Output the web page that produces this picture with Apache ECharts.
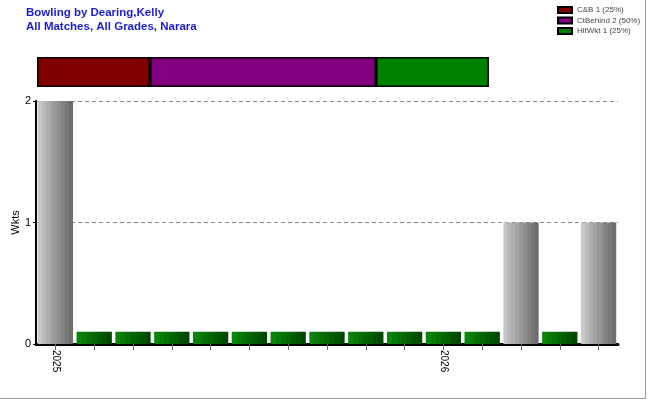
<!DOCTYPE html>
<html><head><meta charset="utf-8">
<script src="https://cdn.jsdelivr.net/npm/echarts@6/dist/echarts.min.js"></script>
<style>html,body{margin:0;padding:0;background:#fff}#c{width:650px;height:400px}</style>
</head><body><div id="c"></div>
<script>
// ---- data ----
const titleLines = ['Bowling by Dearing,Kelly', 'All Matches, All Grades, Narara'];
const categories = ['m1','m2','m3','m4','m5','m6','m7','m8','m9','m10','m11','m12','m13','m14','m15'];
const tickLabels = ['2025','','','','','','','','','','2026','','','',''];
const wickets    = [2, null, null, null, null, null, null, null, null, null, null, null, 1, null, 1];
const zeroMarker = [null, 0.1, 0.1, 0.1, 0.1, 0.1, 0.1, 0.1, 0.1, 0.1, 0.1, 0.1, null, 0.1, null];
const dismissalNames  = ['C&B 1 (25%)', 'CtBehind 2 (50%)', 'HitWkt 1 (25%)'];
const dismissalCounts = [1, 2, 1];
const dismissalColors = ['#800000', '#800080', '#008000'];
const yTicks = [0, 1, 2];

function stripes(cols){
  const stops=[]; const n=cols.length;
  cols.forEach((c,i)=>{stops.push({offset:i/n,color:c});stops.push({offset:(i+1)/n-0.0001,color:c});});
  return {type:'linear',x:0,y:0,x2:1,y2:0,colorStops:stops};
}
const grayFill = stripes(['#c8c8c8','#bababa','#aeaeae','#a3a3a3','#989898','#8d8d8d','#828282','#777777','#6c6c6c']);
const greenFill = stripes(['#0a840a','#077a07','#057005','#036603','#025c02','#015201','#004800']);

const chart = echarts.init(document.getElementById('c'));
const dismissalSeries = dismissalNames.map((n,i)=>({
  name:n, type:'bar', stack:'d', xAxisIndex:1, yAxisIndex:1,
  data:[dismissalCounts[i]], barWidth:'100%',
  itemStyle:{color:dismissalColors[i], borderColor:'#000', borderWidth:1.5},
  silent:true
}));
chart.setOption({
  animation:false,
  backgroundColor:'#fff',
  title:{text:titleLines.join('\n'), left:21, top:1,
    textStyle:{fontFamily:'Liberation Sans, Arial', fontSize:11.5, fontWeight:'bold', color:'#1c1ccf', lineHeight:14}},
  legend:{orient:'vertical', left:552, top:0, itemWidth:14, itemHeight:6, itemGap:0.5, icon:'rect',
    data:dismissalNames,
    textStyle:{fontFamily:'Liberation Sans, Arial', fontSize:8, color:'#444', lineHeight:10},
    selectedMode:false},
  grid:[
    {left:36, right:32, top:101, bottom:56, outerBoundsMode:'none', containLabel:false},
    {left:37, top:57, width:452, height:30, outerBoundsMode:'none', containLabel:false}
  ],
  xAxis:[
    {type:'category', data:categories, gridIndex:0,
      axisLine:{lineStyle:{color:'#000', width:3}},
      axisTick:{show:true, interval:0, alignWithLabel:true, length:6, lineStyle:{color:'#666', width:1}},
      axisLabel:{rotate:-90, fontSize:10, color:'#000', fontFamily:'Liberation Sans, Arial', margin:6,
        interval:0, formatter:(v,i)=>tickLabels[i]}},
    {type:'value', gridIndex:1, min:0, max:4, show:false}
  ],
  yAxis:[
    {type:'value', gridIndex:0, min:0, max:2, interval:1, name:'Wkts', nameLocation:'middle', nameGap:15,
      nameMoveOverlap:false,
      nameTextStyle:{fontSize:11, color:'#000', fontFamily:'Liberation Sans, Arial'},
      axisLine:{show:true, lineStyle:{color:'#000', width:2}},
      axisTick:{show:true, length:3, lineStyle:{color:'#000'}},
      axisLabel:{fontSize:11, color:'#000', fontFamily:'Liberation Sans, Arial', margin:5,
        formatter:v=>yTicks.includes(v)?String(v):''},
      splitLine:{show:true, lineStyle:{color:'#888', type:[4,3], width:1}}},
    {type:'category', gridIndex:1, data:['d'], show:false}
  ],
  series:[
    {name:'wkts', type:'bar', data:wickets, barCategoryGap:'9%', barGap:'-100%',
      itemStyle:{color:grayFill}},
    {name:'zero', type:'bar', data:zeroMarker, barCategoryGap:'9%', barGap:'-100%',
      itemStyle:{color:greenFill}},
    ...dismissalSeries
  ],
  graphic:[
    {type:'line', shape:{x1:645.5,y1:0,x2:645.5,y2:398.5}, style:{stroke:'#999', lineWidth:1}},
    {type:'line', shape:{x1:0,y1:398.5,x2:645.5,y2:398.5}, style:{stroke:'#999', lineWidth:1}}
  ]
});
</script></body></html>
